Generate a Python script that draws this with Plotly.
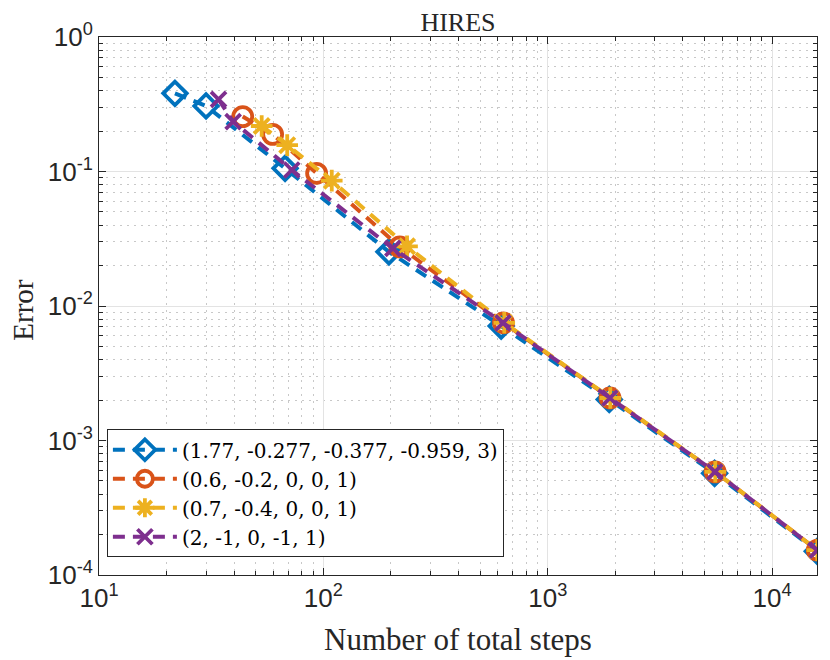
import plotly.graph_objects as go

# number of total steps / error for each coefficient set
steps_a = [21.8, 30.0, 67.5, 196, 620, 1880, 5540, 15900]
err_a = [0.381, 0.307, 0.1056, 0.0253, 0.0071, 0.00202, 5.7e-4, 1.5e-4]

steps_b = [43.7, 59.4, 93.3, 219, 635, 1895, 5570, 15900]
err_b = [0.256, 0.189, 0.097, 0.0275, 0.0075, 0.00207, 5.85e-4, 1.53e-4]

steps_c = [53.1, 69.0, 109, 236, 640, 1900, 5580, 15900]
err_c = [0.218, 0.157, 0.0855, 0.0278, 0.0075, 0.00207, 5.85e-4, 1.53e-4]

steps_d = [34.1, 39.6, 72.3, 204, 632, 1893, 5560, 15900]
err_d = [0.344, 0.235, 0.1026, 0.0268, 0.0075, 0.00207, 5.85e-4, 1.53e-4]

names = ["(1.77, -0.277, -0.377, -0.959, 3)", "(0.6, -0.2, 0, 0, 1)",
         "(0.7, -0.4, 0, 0, 1)", "(2, -1, 0, -1, 1)"]

x_ticks = [10, 100, 1000, 10000]
x_labels = ["10<sup>1</sup>", "10<sup>2</sup>", "10<sup>3</sup>", "10<sup>4</sup>"]
y_ticks = [1e-4, 1e-3, 1e-2, 1e-1, 1]
y_labels = ["10<sup>-4</sup>", "10<sup>-3</sup>", "10<sup>-2</sup>", "10<sup>-1</sup>", "10<sup>0</sup>"]

colors = ["#0072BD", "#D95319", "#EDB120", "#7E2F8E"]
symbols = ["diamond-open", "circle-open", "asterisk-open", "x-thin-open"]
sizes = [18, 19, 18, 15]

serif = "Liberation Serif, serif"

fig = go.Figure()
for xs, ys, name, c, s, sz in zip([steps_a, steps_b, steps_c, steps_d],
                                  [err_a, err_b, err_c, err_d],
                                  names, colors, symbols, sizes):
    fig.add_trace(go.Scatter(
        x=xs, y=ys, name=name, mode="lines+markers",
        line=dict(color=c, width=4, dash="12px,8px"),
        marker=dict(symbol=s, size=sz, color=c, line=dict(color=c, width=3.8)),
    ))

minor_x = [m * 10 ** e for e in range(1, 5) for m in range(2, 10)]
minor_y = [m * 10.0 ** e for e in range(-4, 0) for m in range(2, 10)]

axis_common = dict(
    type="log", showline=True, linecolor="#262626", linewidth=1, mirror="ticks",
    ticks="inside", ticklen=7, tickcolor="#262626", tickmode="array",
    showgrid=True, gridcolor="#e3e3e3", gridwidth=1, zeroline=False,
    automargin=False,
    tickfont=dict(family="Liberation Sans, Arial", size=26, color="#262626"),
)
minor_common = dict(tickmode="array", ticks="inside", ticklen=4, tickcolor="#262626",
                    showgrid=True, gridcolor="#c8c8c8", griddash="2px,5px", gridwidth=1)

fig.update_xaxes(
    **axis_common, range=[1, 4.2], tickvals=x_ticks, ticktext=x_labels,
    minor=dict(**minor_common, tickvals=minor_x),
    title=dict(text="Number of total steps", standoff=16,
               font=dict(family=serif, size=31, color="#262626")),
)
fig.update_yaxes(
    **axis_common, range=[-4, 0], tickvals=y_ticks, ticktext=y_labels,
    minor=dict(**minor_common, tickvals=minor_y),
)

# the page puts the figure 8px in from the top-left corner
fig.update_layout(
    width=822, height=652,
    margin=dict(l=91, r=13, t=29, b=85),
    plot_bgcolor="white", paper_bgcolor="white",
    title=dict(text="HIRES", xref="paper", x=0.5, xanchor="center",
               y=0.979, yanchor="middle",
               font=dict(family=serif, size=26, color="#262626")),
    legend=dict(x=0.011, y=0.033, xanchor="left", yanchor="bottom",
                bgcolor="white", bordercolor="#262626", borderwidth=1,
                itemwidth=64, tracegroupgap=0,
                font=dict(family="DejaVu Serif, serif", size=20, color="#000000")),
    annotations=[dict(text="Error", textangle=-90, xref="paper", yref="paper",
                      x=-0.106, y=0.493, xanchor="center", yanchor="middle",
                      showarrow=False, font=dict(family=serif, size=29, color="#262626"))],
    showlegend=True,
)

fig.write_html("out.html")
